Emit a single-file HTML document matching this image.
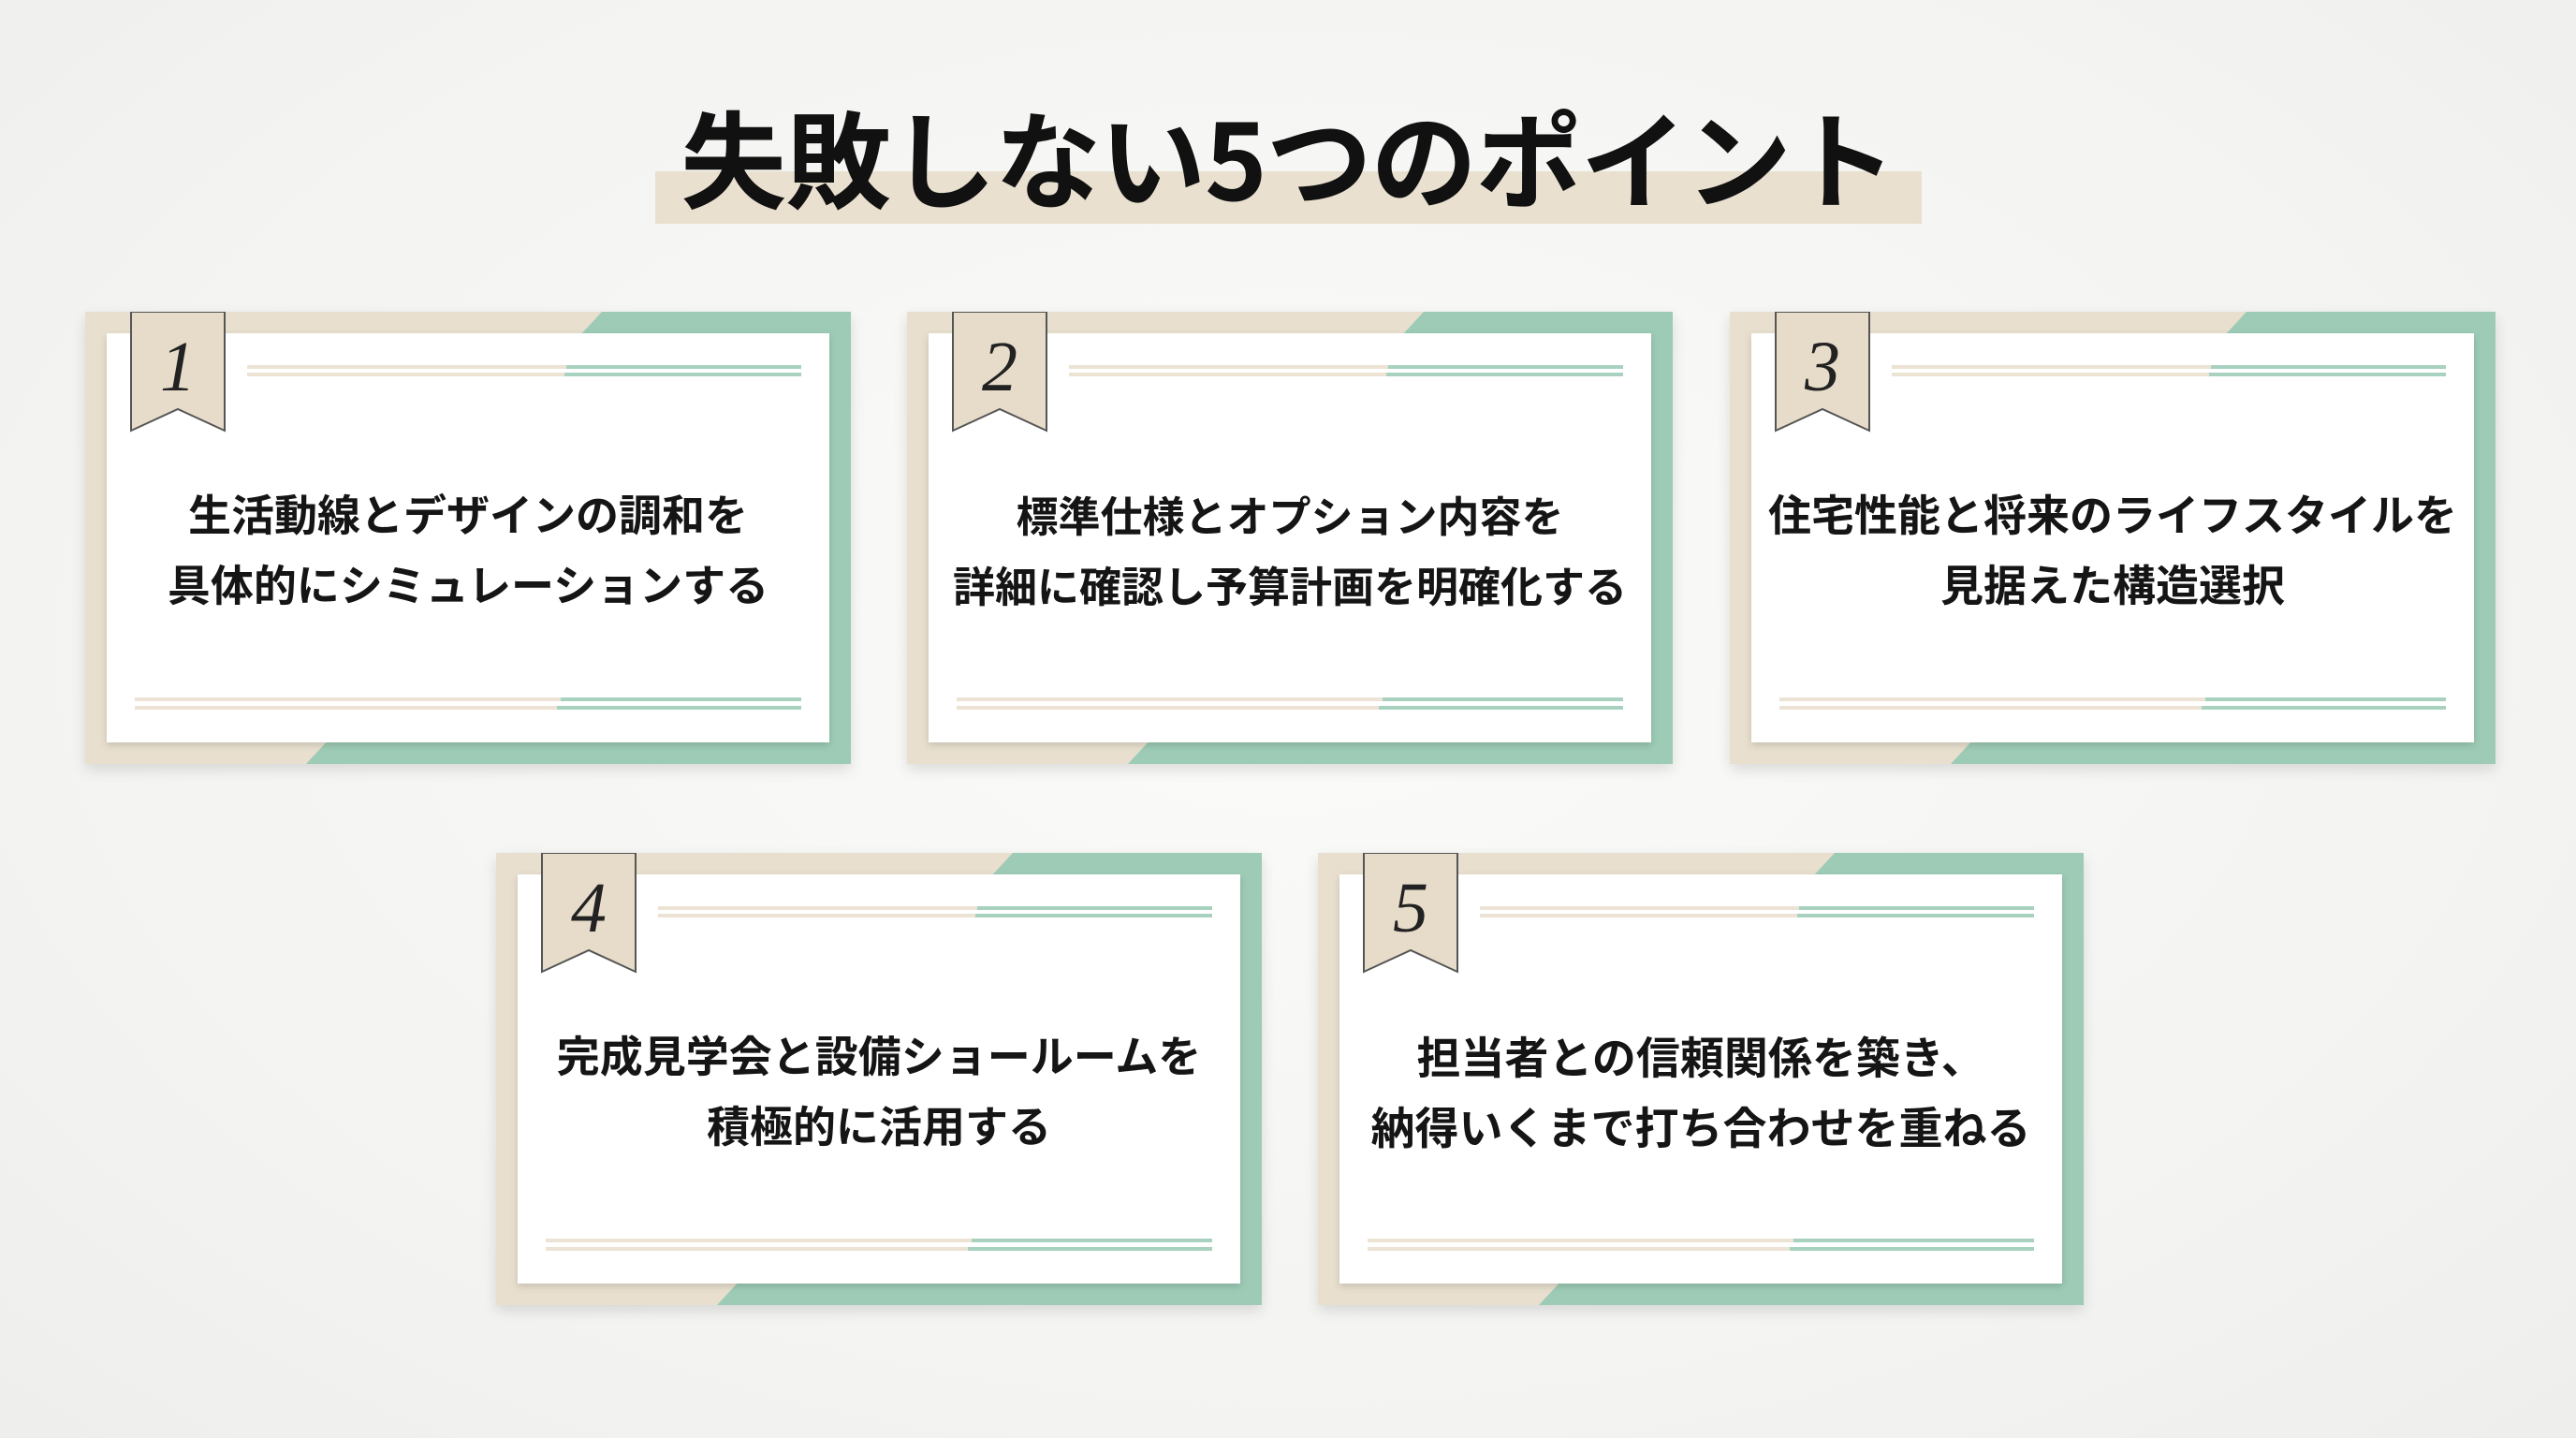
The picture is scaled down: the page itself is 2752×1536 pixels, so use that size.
<!DOCTYPE html>
<html><head><meta charset="utf-8">
<style>
html,body{margin:0;padding:0;}
body{width:2752px;height:1536px;position:relative;overflow:hidden;
background:radial-gradient(ellipse at 50% 45%,#fbfbfa 0%,#f3f3f1 70%,#eeeeec 100%);
font-family:"Liberation Sans","Noto Sans CJK JP",sans-serif;}
.band{position:absolute;left:700px;top:183px;width:1353px;height:56px;background:#e9e0cf;}
.title{position:absolute;left:0;width:2752px;top:90px;text-align:center;font-size:113px;font-weight:700;color:#111;line-height:150px;letter-spacing:-1px;font-family:"Noto Sans CJK JP",sans-serif;}
.card{position:absolute;width:818px;height:483px;box-shadow:0 6px 14px rgba(0,0,0,0.12);}
.card svg{position:absolute;left:0;top:0;}
.txt{position:absolute;left:23px;width:772px;top:178px;text-align:center;font-size:46px;font-weight:700;line-height:75px;color:#151515;font-family:"Noto Sans CJK JP",sans-serif;}
.num{position:absolute;left:49px;width:100px;top:14px;text-align:center;font-family:"Liberation Serif",serif;font-style:italic;font-size:76px;color:#222;line-height:90px;}
</style></head><body>
<div class="band"></div>
<div class="title">失敗しない5つのポイント</div>
<svg width="0" height="0" style="position:absolute"><defs><filter id="s" x="-5%" y="-5%" width="110%" height="115%"><feDropShadow dx="0" dy="3" stdDeviation="4" flood-opacity="0.15"/></filter>
<g id="cardbg">
<rect width="818" height="483" fill="#e8dfce"/>
<polygon points="552,0 818,0 818,483 236,483 262,455 780,455 780,40 515,40" fill="#9dcbb5"/>
<rect x="23" y="23" width="772" height="437" fill="#fff" filter="url(#s)"/>
<rect x="173" y="57" width="341" height="4" fill="#ece3d4"/><rect x="514" y="57" width="251" height="4" fill="#a8d2bf"/>
<rect x="173" y="65" width="339" height="4" fill="#ece3d4"/><rect x="512" y="65" width="253" height="4" fill="#a8d2bf"/>
<rect x="53" y="412" width="455" height="4" fill="#ece3d4"/><rect x="508" y="412" width="257" height="4" fill="#a8d2bf"/>
<rect x="53" y="421" width="451" height="4" fill="#ece3d4"/><rect x="504" y="421" width="261" height="4" fill="#a8d2bf"/>
<polygon points="49,0 149,0 149,127 99,104 49,127" fill="#e6dcc9" stroke="#555" stroke-width="2"/>
</g></defs></svg>

<div class="card" style="left:91px;top:333px;">
<svg width="818" height="483"><use href="#cardbg"/></svg>
<div class="num">1</div>
<div class="txt">生活動線とデザインの調和を<br>具体的にシミュレーションする</div>
</div>

<div class="card" style="left:969px;top:333px;">
<svg width="818" height="483"><use href="#cardbg"/></svg>
<div class="num">2</div>
<div class="txt" style="font-size:45px;">標準仕様とオプション内容を<br>詳細に確認し予算計画を明確化する</div>
</div>

<div class="card" style="left:1848px;top:333px;">
<svg width="818" height="483"><use href="#cardbg"/></svg>
<div class="num">3</div>
<div class="txt">住宅性能と将来のライフスタイルを<br>見据えた構造選択</div>
</div>

<div class="card" style="left:530px;top:911px;">
<svg width="818" height="483"><use href="#cardbg"/></svg>
<div class="num">4</div>
<div class="txt">完成見学会と設備ショールームを<br>積極的に活用する</div>
</div>

<div class="card" style="left:1408px;top:911px;">
<svg width="818" height="483"><use href="#cardbg"/></svg>
<div class="num">5</div>
<div class="txt" style="font-size:47px;">担当者との信頼関係を築き、<br>納得いくまで打ち合わせを重ねる</div>
</div>
</body></html>
